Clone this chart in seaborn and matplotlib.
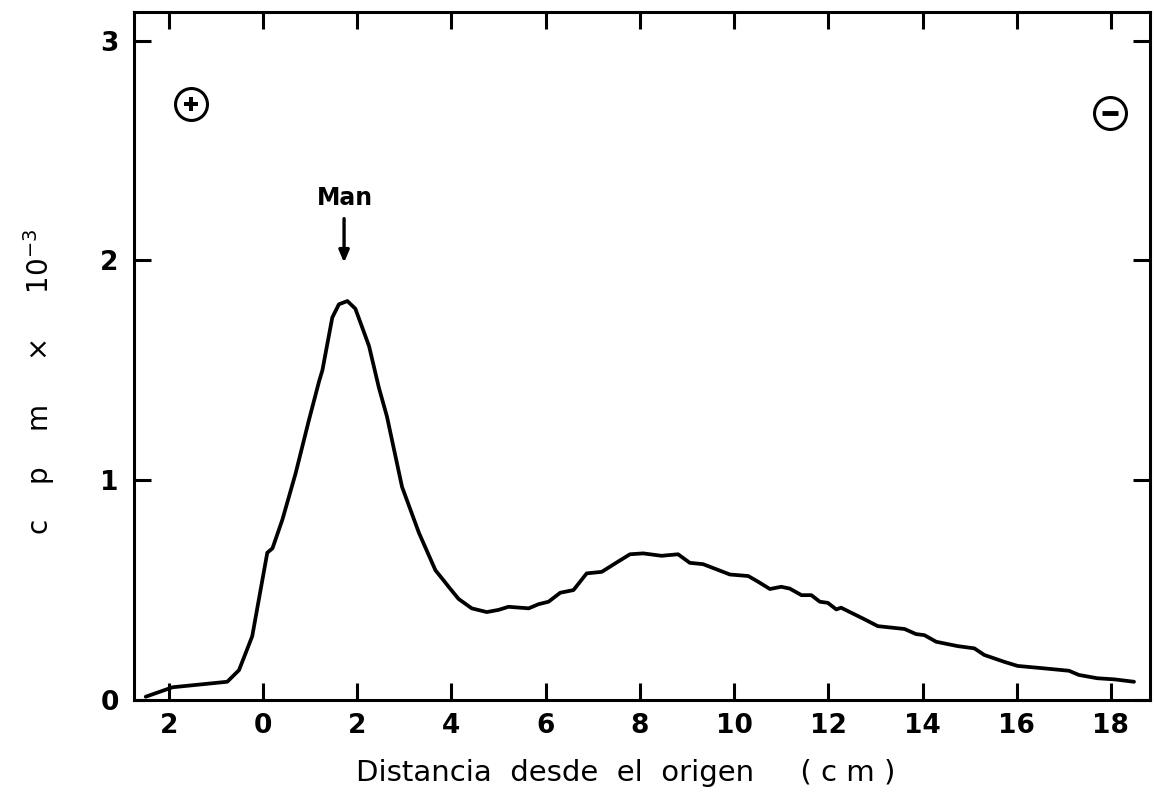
import numpy as np
import pandas as pd
import matplotlib
matplotlib.use("Agg")
import matplotlib.pyplot as plt
import seaborn as sns

# Radioactivity profile along the electrophoresis strip
distance_cm = [-2.49, -1.92, -0.76, -0.51, -0.23, 0.09, 0.20, 0.41, 0.69, 0.97,
               1.19, 1.26, 1.47, 1.61, 1.79, 1.96, 2.25, 2.46, 2.63, 2.95,
               3.31, 3.66, 3.83, 3.94, 4.15, 4.43, 4.75, 5.00, 5.21, 5.64,
               5.85, 6.06, 6.31, 6.59, 6.87, 7.19, 7.54, 7.79, 8.07, 8.46,
               8.81, 9.06, 9.34, 9.56, 9.91, 10.30, 10.51, 10.76, 11.00, 11.18,
               11.43, 11.64, 11.82, 11.99, 12.17, 12.27, 12.77, 13.05, 13.62, 13.86,
               14.04, 14.29, 14.75, 15.10, 15.31, 15.73, 16.02, 16.58, 17.11, 17.32,
               17.71, 18.07, 18.49]
cpm_thousands = [0.015, 0.058, 0.083, 0.136, 0.29, 0.67, 0.69, 0.82, 1.03, 1.27,
                 1.45, 1.50, 1.74, 1.80, 1.815, 1.78, 1.61, 1.42, 1.29, 0.97,
                 0.76, 0.59, 0.545, 0.515, 0.46, 0.417, 0.40, 0.41, 0.424, 0.417,
                 0.436, 0.447, 0.488, 0.50, 0.576, 0.583, 0.63, 0.663, 0.667, 0.656,
                 0.663, 0.624, 0.618, 0.60, 0.571, 0.564, 0.538, 0.505, 0.515, 0.507,
                 0.477, 0.477, 0.447, 0.442, 0.412, 0.42, 0.367, 0.336, 0.323, 0.30,
                 0.295, 0.265, 0.245, 0.235, 0.205, 0.174, 0.155, 0.144, 0.133, 0.114,
                 0.099, 0.094, 0.083]

x_ticks = [-2, 0, 2, 4, 6, 8, 10, 12, 14, 16, 18]
x_tick_labels = ["2", "0", "2", "4", "6", "8", "10", "12", "14", "16", "18"]
y_ticks = [0, 1, 2, 3]
y_tick_labels = ["0", "1", "2", "3"]

marker_label = "Man"
marker_x = 1.72
anode_pos = (-1.53, 2.71)
cathode_pos = (17.98, 2.67)

df = pd.DataFrame({"dist": distance_cm, "cpm": cpm_thousands})

sns.set_style("ticks")
plt.rcParams["font.family"] = ["DejaVu Sans"]
plt.rcParams["text.color"] = "black"
plt.rcParams["axes.labelcolor"] = "black"
plt.rcParams["xtick.color"] = "black"
plt.rcParams["ytick.color"] = "black"

fig = plt.figure(figsize=(11.55, 7.97), dpi=100)
ax = fig.add_axes([0.116, 0.1217, 0.8797, 0.8633])

sns.lineplot(data=df, x="dist", y="cpm", ax=ax, color="black", linewidth=2.7,
             sort=False, estimator=None)
for ln in ax.lines:
    ln.set_solid_joinstyle("round")
    ln.set_solid_capstyle("round")

ax.set_xlim(-2.74, 18.83)
ax.set_ylim(0, 3.13)

ax.set_xticks(x_ticks)
ax.set_xticklabels(x_tick_labels)
ax.set_yticks(y_ticks)
ax.set_yticklabels(y_tick_labels)

ax.tick_params(axis="both", which="major", direction="in", length=12, width=2.2,
               labelsize=19, top=True, right=True, color="black",
               labelcolor="black")
ax.tick_params(axis="x", pad=9)
ax.tick_params(axis="y", pad=11)
for lab in ax.get_xticklabels() + ax.get_yticklabels():
    lab.set_fontweight("bold")

for sp in ax.spines.values():
    sp.set_linewidth(2.2)
    sp.set_color("black")

ax.set_xlabel("Distancia  desde  el  origen     ( c m )", fontsize=21,
              color="black")
ax.xaxis.set_label_coords(0.484, -0.086)
ax.set_ylabel(r"c    p    m     ×     10$^{-3}$", fontsize=20, color="black")
ax.yaxis.set_label_coords(-0.076, 0.462)

# Position marker with arrow
ax.annotate("", xy=(marker_x, 1.99), xytext=(marker_x, 2.19),
            arrowprops=dict(arrowstyle="-|>,head_length=0.7,head_width=0.3",
                            color="black", lw=2.4, shrinkA=0, shrinkB=0))
ax.text(marker_x + 0.02, 2.23, marker_label, ha="center", va="bottom", fontsize=17,
        fontweight="bold", color="black")

# Electrode polarity symbols
for (px, py), inner in ((anode_pos, "P"), (cathode_pos, "_")):
    ax.plot([px], [py], marker="o", ms=23, mfc="none", mec="black", mew=2.2)
    if inner == "P":
        ax.plot([px], [py], marker="P", ms=10, color="black", mew=0)
    else:
        ax.plot([px], [py], marker="_", ms=11, color="black", mew=3.5)

fig.savefig("out.png", dpi=100, facecolor="white")
